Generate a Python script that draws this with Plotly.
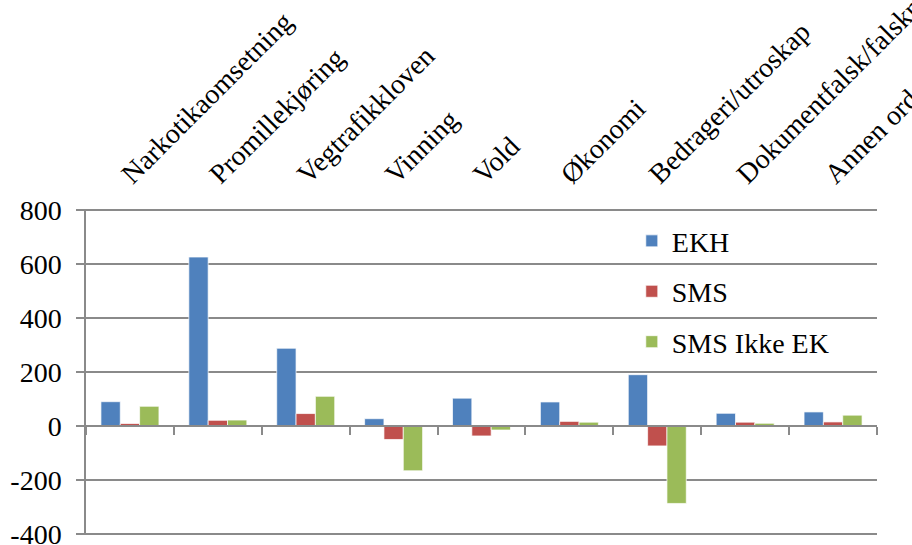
import plotly.graph_objects as go

categories = ["Narkotikaomsetning", "Promillekjøring", "Vegtrafikkloven", "Vinning", "Vold",
              "Økonomi", "Bedrageri/utroskap", "Dokumentfalsk/falskneri", "Annen orden"]
ekh = [90, 626, 288, 27, 103, 89, 190, 47, 52]
sms = [9, 21, 46, -50, -37, 17, -74, 14, 15]
sms_ikke_ek = [73, 22, 110, -166, -15, 14, -287, 10, 40]
series_names = ["EKH", "SMS", "SMS Ikke EK"]
colors = ["#4F81BD", "#C0504D", "#9BBB59"]
y_ticks = [-400, -200, 0, 200, 400, 600, 800]
y_tick_labels = ["-400", "-200", "0", "200", "400", "600", "800"]

FONT = "Liberation Serif, Times New Roman, serif"
GRID = "#8a8a8a"
FS = 28
# small padding so the edge gridlines at -400 and 800 are drawn
rmin, rmax = min(y_ticks) - 4, max(y_ticks) + 4

fig = go.Figure()
for name, vals, col in zip(series_names, [ekh, sms, sms_ikke_ek], colors):
    fig.add_trace(go.Bar(
        x=categories, y=vals, name=name, legendgroup=name,
        marker=dict(color=col, line=dict(color="rgba(255,255,255,0.7)", width=1)),
    ))

# dummy trace to carry the zero-axis with category boundary ticks
n = len(categories)
fig.add_trace(go.Scatter(x=[None], y=[None], xaxis="x2", showlegend=False, hoverinfo="skip"))

fig.update_layout(
    width=912, height=545,
    margin=dict(l=86, r=35, t=209, b=10),
    paper_bgcolor="white", plot_bgcolor="white",
    font=dict(family=FONT, size=FS, color="black"),
    barmode="group", bargap=0.34, bargroupgap=0,
    showlegend=True,
    legend=dict(x=0.69, y=0.978, xanchor="left", yanchor="top",
                bgcolor="rgba(0,0,0,0)", font=dict(size=FS, family=FONT),
                tracegroupgap=11, traceorder="grouped"),
    xaxis=dict(side="top", tickangle=-45, showgrid=False, showline=False, ticks="",
               automargin=False, range=[-0.5, n - 0.5], tickfont=dict(size=FS),
               ticklabelstandoff=13, ticklabelshift=-7, ticklabeloverflow="allow"),
    xaxis2=dict(overlaying="x", anchor="free", position=(0 - rmin) / (rmax - rmin),
                side="bottom", range=[-0.5, n - 0.5], tickmode="array",
                tickvals=[i - 0.5 for i in range(n + 1)], showticklabels=False,
                ticks="outside", ticklen=8, tickwidth=1.5, tickcolor=GRID,
                showline=True, linecolor=GRID, linewidth=1.5, showgrid=False, zeroline=False),
    yaxis=dict(range=[rmin, rmax], tickvals=y_ticks, ticktext=y_tick_labels,
               showgrid=True, gridcolor=GRID, gridwidth=1.5,
               zeroline=False, showline=True, linecolor=GRID, linewidth=1.5,
               ticks="outside", ticklen=8, tickwidth=1.5, tickcolor=GRID,
               ticklabelstandoff=9, automargin=False, tickfont=dict(size=FS),
               ticklabeloverflow="allow"),
    shapes=[dict(type="rect", xref="paper", yref="paper", x0=0.651, x1=0.998, y0=0.515, y1=0.98,
                 fillcolor="white", line=dict(width=0), layer="between")],
)

# remove the default page margin so the 912x545 figure fills the window exactly
fig.write_html("out.html", config={"displayModeBar": False},
               post_script="document.body.style.margin='0';document.body.style.overflow='hidden';")
